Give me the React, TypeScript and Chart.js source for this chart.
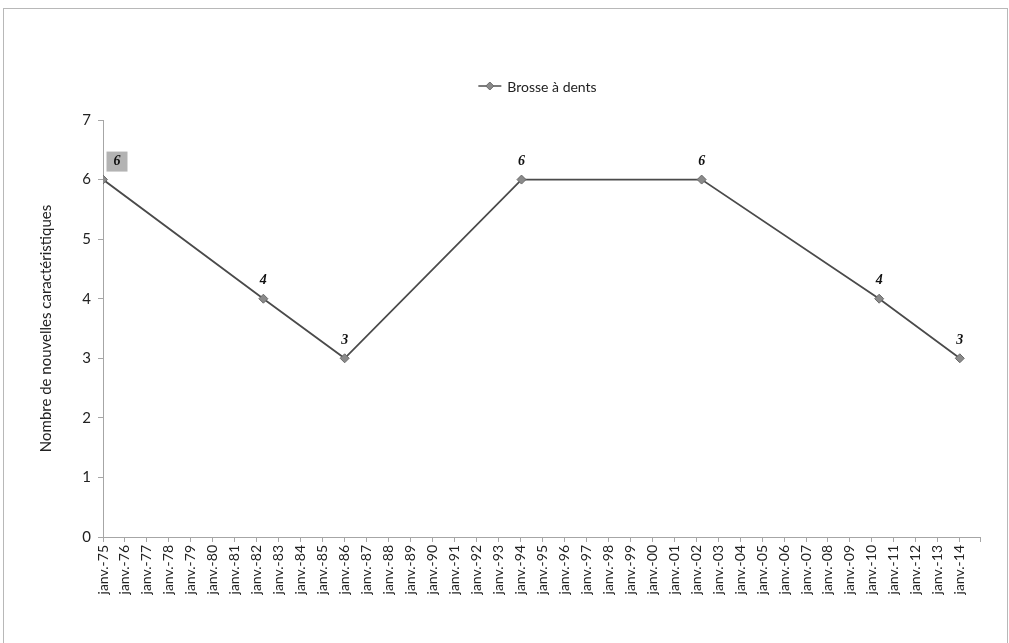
import React, { useEffect, useRef } from "react";
import { Chart, registerables } from "chart.js";

Chart.register(...registerables);

// ---- data ----
const seriesName = "Brosse à dents";
const pointYears = [1975.0, 1982.3, 1986.0, 1994.05, 2002.25, 2010.33, 2014.0];
const pointValues = [6, 4, 3, 6, 6, 4, 3];
const xMinYear = 1975;
const xMaxYear = 2014.92;
const yTitle = "Nombre de nouvelles caractéristiques";
const monthPrefix = "janv.-";

const FONT = "Lato, 'Open Sans', 'DejaVu Sans', sans-serif";
const LABEL_FONT = "italic bold 14px 'Liberation Serif', 'DejaVu Serif', serif";

const legendPlugin = {
  id: "customLegend",
  afterDraw(chart: any) {
    const ctx = chart.ctx;
    const area = chart.chartArea;
    ctx.save();
    ctx.font = `14px ${FONT}`;
    const tw = ctx.measureText(seriesName).width;
    const lineW = 23;
    const gap = 6;
    const total = lineW + gap + tw;
    const cx = (area.left + area.right) / 2 - 4;
    const x0 = cx - total / 2;
    const y = area.top - 34;
    ctx.strokeStyle = "#505050";
    ctx.lineWidth = 1.5;
    ctx.beginPath();
    ctx.moveTo(x0, y);
    ctx.lineTo(x0 + lineW, y);
    ctx.stroke();
    const mx = x0 + lineW / 2;
    ctx.fillStyle = "#8a8a8a";
    ctx.strokeStyle = "#6a6a6a";
    ctx.lineWidth = 1;
    ctx.beginPath();
    ctx.moveTo(mx, y - 4);
    ctx.lineTo(mx + 4, y);
    ctx.lineTo(mx, y + 4);
    ctx.lineTo(mx - 4, y);
    ctx.closePath();
    ctx.fill();
    ctx.stroke();
    ctx.fillStyle = "#222";
    ctx.textBaseline = "middle";
    ctx.textAlign = "left";
    ctx.fillText(seriesName, x0 + lineW + gap, y + 1);
    ctx.restore();
  },
};

const dataLabelPlugin = {
  id: "dataLabels",
  afterDatasetsDraw(chart: any) {
    const ctx = chart.ctx;
    const meta = chart.getDatasetMeta(0);
    ctx.save();
    ctx.font = LABEL_FONT;
    ctx.textAlign = "center";
    ctx.textBaseline = "middle";
    meta.data.forEach((pt: any, i: number) => {
      const v = pointValues[i];
      let x = pt.x;
      const y = pt.y - 18;
      if (i === 0) {
        x = pt.x + 14;
        ctx.fillStyle = "#b3b3b3";
        ctx.fillRect(x - 10.5, y - 10, 21, 20);
      }
      ctx.fillStyle = "#111";
      ctx.fillText(String(v), x, y);
    });
    ctx.restore();
  },
};

export default function App() {
  const ref = useRef<HTMLCanvasElement | null>(null);
  useEffect(() => {
    if (!ref.current) return;
    const chart = new Chart(ref.current, {
      type: "line",
      data: {
        datasets: [
          {
            label: seriesName,
            data: pointYears.map((x, i) => ({ x, y: pointValues[i] })),
            borderColor: "#4a4a4a",
            borderWidth: 1.75,
            pointStyle: "rectRot",
            pointRadius: 4.5,
            pointBackgroundColor: "#8a8a8a",
            pointBorderColor: "#6a6a6a",
            pointBorderWidth: 1,
            tension: 0,
          },
        ],
      },
      options: {
        responsive: false,
        animation: false,
        layout: { padding: { left: 29, top: 111, right: 27, bottom: 32 } },
        plugins: {
          legend: { display: false },
          tooltip: { enabled: false },
        },
        scales: {
          x: {
            type: "linear",
            min: xMinYear,
            max: xMaxYear,
            afterFit: (s: any) => {
              s.height = 80;
            },
            grid: {
              drawOnChartArea: false,
              drawTicks: true,
              tickLength: 5,
              color: "#a6a6a6",
            },
            border: { color: "#a6a6a6", width: 1 },
            ticks: {
              stepSize: 1,
              autoSkip: false,
              minRotation: 90,
              maxRotation: 90,
              padding: 3,
              color: "#222",
              font: { family: FONT, size: 14 },
              callback: (v: any) => {
                const n = Number(v);
                if (Math.abs(n - Math.round(n)) > 1e-6) return "";
                return monthPrefix + String(Math.round(n) % 100).padStart(2, "0");
              },
            },
          },
          y: {
            min: 0,
            max: 7,
            afterFit: (s: any) => {
              s.width = 70;
            },
            grid: {
              drawOnChartArea: false,
              drawTicks: true,
              tickLength: 5,
              color: "#a6a6a6",
            },
            border: { color: "#a6a6a6", width: 1 },
            ticks: {
              stepSize: 1,
              padding: 7,
              color: "#222",
              font: { family: FONT, size: 15 },
            },
            title: {
              display: true,
              text: yTitle,
              color: "#222",
              padding: { top: 4, bottom: 4 },
              font: { family: FONT, size: 15 },
            },
          },
        },
      },
      plugins: [legendPlugin, dataLabelPlugin],
    });
    return () => chart.destroy();
  }, []);

  return (
    <div
      style={{
        position: "absolute",
        left: 3,
        top: 8,
        width: 1003,
        height: 640,
        border: "1px solid #b8b8b8",
        background: "#fff",
      }}
    >
      <canvas ref={ref} width={1003} height={640} style={{ display: "block" }} />
    </div>
  );
}
